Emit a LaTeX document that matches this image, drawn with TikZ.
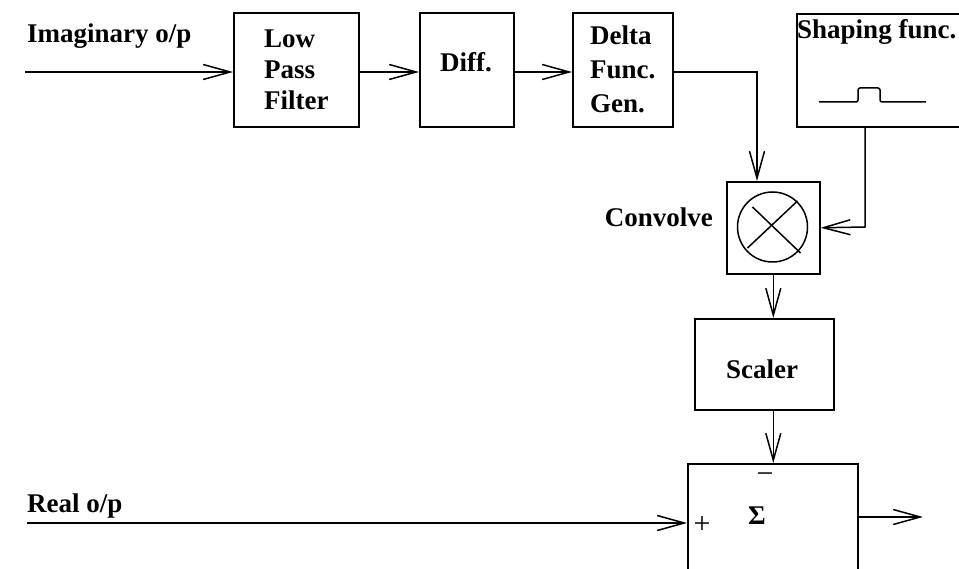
\documentclass[tikz,border=0pt]{standalone}
\usepackage{fontspec}
\setmainfont{Liberation Serif}
\usetikzlibrary{arrows.meta,calc}
\begin{document}
\begin{tikzpicture}[x=1pt,y=-1pt,
  every node/.style={font=\fontsize{27}{31}\selectfont\bfseries, inner sep=0pt},
  box/.style={draw, line width=1.6pt, anchor=north west},
  conn/.style={line width=1.5pt},
  arr/.style={conn, -{Straight Barb[length=27pt,width=15pt]}},
  sym/.style={font=\fontsize{30}{34}\selectfont},
]
\clip (0,0) rectangle (959,569);
% boxes
\node[box, minimum width=125pt, minimum height=114pt, align=left] (lpf) at (233,12) {Low\\Pass\\Filter};
\node[box, minimum width=94pt, minimum height=114pt] (diff) at (419,12) {};
\node[box, minimum width=100pt, minimum height=114pt, align=left, font=\fontsize{27}{34}\selectfont\bfseries] (delta) at (572,12) {Delta\\Func.\\Gen.};
\node[box, minimum width=170pt, minimum height=113pt] (shape) at (796,13) {};
\node[box, minimum width=93pt, minimum height=92pt] (conv) at (726,181) {};
\node[box, minimum width=139pt, minimum height=91pt] (scaler) at (694,318) {};
\node[box, minimum width=170pt, minimum height=140pt] (sigma) at (687,463) {};
% labels
\node[anchor=base] (difft) at (466,72) {Diff.};
\node[anchor=base west] (shapet) at (797,39) {Shaping func.};
\node[anchor=base east] (convt) at (713,227) {Convolve};
\node[anchor=base] (scalert) at (762,379) {Scaler};
\node[anchor=base west] (imagt) at (27,43) {Imaginary o/p};
\node[anchor=base west] (realt) at (27,512) {Real o/p};
\node[sym] (minus) at (765,478) {−};
\node (sig) at (757,516) {Σ};
\node[sym] (plus) at (702,525) {+};
% multiplier symbol
\node[draw, circle, minimum size=70pt, line width=1.5pt] (mult) at (772.5,227) {};
\draw[conn] ($(mult)+(-20,-20)$) -- ($(mult)+(28,26)$);
\draw[conn] ($(mult)+(25,-26)$) -- ($(mult)+(-25,21)$);
% pulse
\draw[conn, rounded corners=2pt] (819,102) -- (858,102) -- (858,88) -- (880,88) -- (880,102) -- (926,102);
% coordinates
\coordinate (in1) at (25,72);
\coordinate (c1) at (757,72);
\coordinate (s1) at (865,227);
\coordinate (in2) at (27,523);
\coordinate (out) at (923,517);
% connectors
\draw[arr] (in1) -- (in1 -| lpf.west);
\draw[arr] (lpf.east |- in1) -- (diff.west |- in1);
\draw[arr] (diff.east |- in1) -- (delta.west |- in1);
\draw[arr] (delta.east |- c1) -- (c1) -- (c1 |- conv.north);
\draw[arr] (s1 |- shape.south) -- (s1) -- (conv.east);
\draw[arr] (conv.south) -- (conv.south |- scaler.north);
\draw[arr] (conv.south |- scaler.south) -- (conv.south |- sigma.north);
\draw[arr] (in2) -- (in2 -| sigma.west);
\draw[arr] (sigma.east |- out) -- (out);
\end{tikzpicture}
\end{document}
